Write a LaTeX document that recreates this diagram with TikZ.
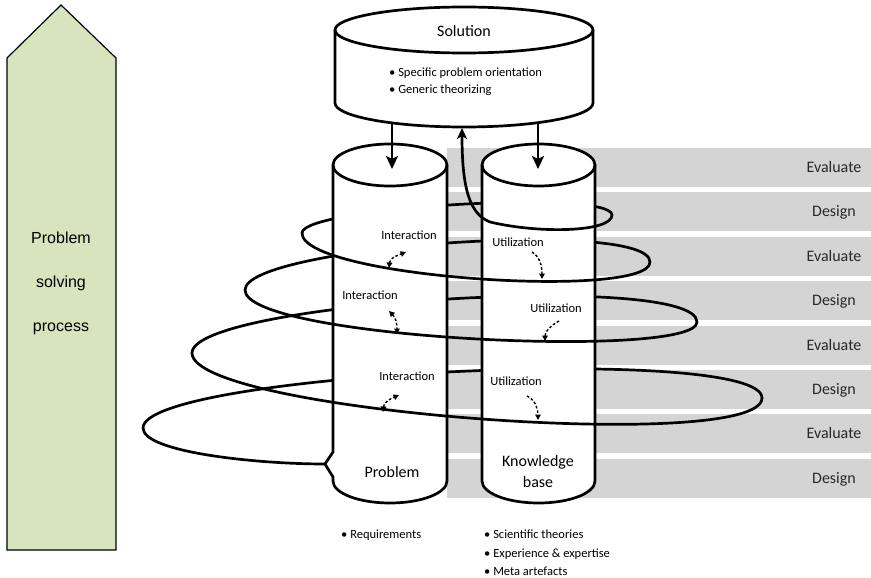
\documentclass[tikz,border=0pt]{standalone}
\usepackage{fontspec}
\setmainfont{Carlito}
\newfontfamily\arialfont{Liberation Sans}
\usetikzlibrary{arrows.meta}
\definecolor{stepgreen}{RGB}{215,228,189}
\definecolor{bandgrey}{RGB}{212,212,212}
\definecolor{inkgrey}{RGB}{40,40,40}

\begin{document}
\begin{tikzpicture}[x=1pt,y=-1pt,
  heavy/.style={line width=2.7pt, line join=round, line cap=round},
  body/.style={heavy, fill=white},
  phase/.style={font=\fontsize{16}{19}\selectfont, anchor=base, text=inkgrey},
  big/.style={font=\fontsize{16}{21}\selectfont, align=center},
  small/.style={font=\fontsize{12.5}{15}\selectfont, anchor=base},
  item/.style={small, anchor=base west, inner sep=0pt},
  procfont/.style={font=\arialfont\fontsize{16}{19}\selectfont, anchor=base},
  flow/.style={line width=1.4pt, dash pattern=on 2.6pt off 2pt},
  flowboth/.style={flow, {Triangle[length=5.5pt,width=5.5pt]}-{Triangle[length=5.5pt,width=5.5pt]}},
  flowone/.style={flow, -{Triangle[length=5.5pt,width=5.5pt]}},
  feed/.style={heavy, -{Stealth[length=13pt,width=12pt,inset=3pt]}},
]
\useasboundingbox (0,0) rectangle (871,578);

% ---------- problem solving process arrow ----------
\draw[fill=stepgreen, line width=1.2pt, line join=miter]
  (7,58) -- (61,5) -- (116,58) -- (116,550) -- (7,550) -- cycle;
\node[procfont] (ps1) at (61,243) {Problem};
\node[procfont] (ps2) at (61,287) {solving};
\node[procfont] (ps3) at (61,331) {process};

% ---------- evaluate / design bands ----------
\foreach \i/\name in {0/Evaluate,1/Design,2/Evaluate,3/Design,4/Evaluate,5/Design,6/Evaluate,7/Design} {
  \fill[bandgrey] (447,{148+44.4*\i}) rectangle (871,{187+44.4*\i});
  \node[phase] (phase\i) at (834,{172.5+44.4*\i}) {\name};
}

% ---------- spiral turning points ----------
\coordinate (R1) at (612,215);
\coordinate (L1) at (302,233);
\coordinate (R2) at (650,262);
\coordinate (L2) at (245,290);
\coordinate (R3) at (697,322);
\coordinate (L3) at (192,353);
\coordinate (R4) at (762,398);
\coordinate (L4) at (143,428);
\coordinate (notch) at (325,464);
\coordinate (turn) at (490,222);
\coordinate (solTip) at (462,128);

% back strands of the spiral (hidden behind the cylinders)
\draw[heavy] (R1) .. controls +(0,-26) and +(0,-26) .. (L1);
\draw[heavy] (R2) .. controls +(0,-44) and +(0,-44) .. (L2);
\draw[heavy] (R3) .. controls +(0,-51) and +(0,-51) .. (L3);
\draw[heavy] (R4) .. controls +(0,-55) and +(0,-55) .. (L4);

% ---------- problem cylinder ----------
\draw[body] (333,165) -- (333,452) -- (notch) -- (333,477) -- (333,481)
  arc[start angle=180, end angle=360, x radius=57pt, y radius=22pt]
  -- (447,165)
  arc[start angle=0, end angle=180, x radius=57pt, y radius=21pt] -- cycle;
\draw[heavy] (333,165) arc[start angle=180, end angle=360, x radius=57pt, y radius=21pt];

% ---------- knowledge base cylinder ----------
\draw[body] (482,165) -- (482,481)
  arc[start angle=180, end angle=360, x radius=56.5pt, y radius=22pt]
  -- (595,165)
  arc[start angle=0, end angle=180, x radius=56.5pt, y radius=21pt] -- cycle;
\draw[heavy] (482,165) arc[start angle=180, end angle=360, x radius=56.5pt, y radius=21pt];

% ---------- solution cylinder ----------
\draw[body] (335,30) -- (335,103)
  arc[start angle=180, end angle=360, x radius=129pt, y radius=24pt]
  -- (593,30)
  arc[start angle=0, end angle=180, x radius=129pt, y radius=23pt] -- cycle;
\draw[heavy] (335,30) arc[start angle=180, end angle=360, x radius=129pt, y radius=23pt];

% front strands of the spiral
\draw[heavy] (L1) .. controls +(0,45) and +(0,38) .. (R2);
\draw[heavy] (L2) .. controls +(0,49) and +(0,38) .. (R3);
\draw[heavy] (L3) .. controls +(0,59) and +(0,56) .. (R4);
\draw[heavy] (L4) .. controls +(0,24) and +(-70,0) .. (notch);
\draw[heavy, -{Stealth[length=11pt,width=10pt,inset=3pt]}]
  (R1) .. controls +(0,17) and +(50,12) .. (turn)
       .. controls +(-20,-8) and +(0,62) .. (solTip);

% ---------- solution feeds ----------
\coordinate (solL) at (392,123);
\coordinate (solR) at (538,123);
\coordinate (probTop) at (392,169);
\coordinate (kbTop) at (538,169);
\draw[feed] (solL) -- (probTop);
\draw[feed] (solR) -- (kbTop);

% ---------- texts ----------
\node[phase, text=black] (soltitle) at (464,37) {Solution};
\node[item] (sol1) at (389,77) {• Specific problem orientation};
\node[item] (sol2) at (389,94) {• Generic theorizing};

\node[phase, text=black] (probname) at (392,477) {Problem};
\node[big] (kbname) at (538,471.5) {Knowledge\\base};

\node[item] (req) at (341,538) {• Requirements};
\node[item] (kb1) at (484,538) {• Scientific theories};
\node[item] (kb2) at (484,557) {• Experience \& expertise};
\node[item] (kb3) at (484,575) {• Meta artefacts};

\node[small] (inter1) at (409,239) {Interaction};
\node[small] (inter2) at (370,299) {Interaction};
\node[small] (inter3) at (407,380) {Interaction};
\node[small] (util1) at (518,246) {Utilization};
\node[small] (util2) at (556,312) {Utilization};
\node[small] (util3) at (516,385) {Utilization};

% ---------- interaction / utilization flows ----------
\coordinate (ia1) at (389,268); \coordinate (ib1) at (406,252);
\coordinate (ia2) at (389,311); \coordinate (ib2) at (397,334);
\coordinate (ia3) at (383,412); \coordinate (ib3) at (399,395);
\coordinate (ua1) at (532,252); \coordinate (ub1) at (542,279);
\coordinate (ua2) at (559,321); \coordinate (ub2) at (545,341);
\coordinate (ua3) at (527,396); \coordinate (ub3) at (538,420);
\draw[flowboth] (ia1) .. controls +(1,-10) and +(-10,4) .. (ib1);
\draw[flowboth] (ia2) .. controls +(7,7) and +(0,-10) .. (ib2);
\draw[flowboth] (ia3) .. controls +(1,-10) and +(-9,4) .. (ib3);
\draw[flowone] (ua1) .. controls +(8,5) and +(0,-13) .. (ub1);
\draw[flowone] (ua2) .. controls +(-9,5) and +(0,-9) .. (ub2);
\draw[flowone] (ua3) .. controls +(8,4) and +(0,-12) .. (ub3);

\end{tikzpicture}
\end{document}
